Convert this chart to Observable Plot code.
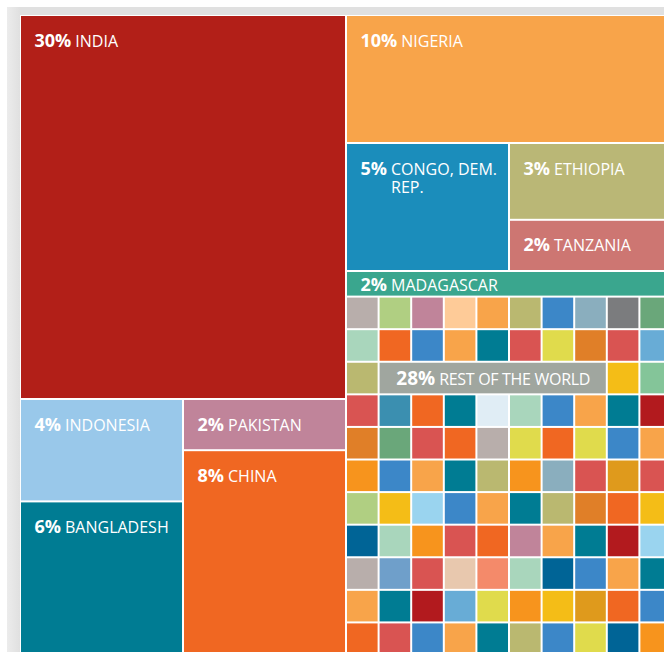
<!DOCTYPE html>
<html>
<head>
<meta charset="utf-8">
<script src="https://cdn.jsdelivr.net/npm/d3@7"></script>
<script src="https://cdn.jsdelivr.net/npm/@observablehq/plot@0.6"></script>
<style>
  html, body { margin: 0; padding: 0; background: #fff; }
  #page { position: relative; width: 664px; height: 652px; overflow: hidden; background: #fff; }
  #frame { position: absolute; left: 7px; top: 7px; width: 657px; height: 645px;
           background: linear-gradient(90deg, #ececec 0px, #e0e0e0 13px, #e0e0e0 100%); }
  #chart { position: absolute; left: 20px; top: 15px; width: 644px; height: 637px; overflow: hidden; }
  #chart svg { display: block; }
</style>
</head>
<body>
<div id="page">
  <div id="frame"></div>
  <div id="chart"></div>
</div>
<script>
// ---- data ----
const names = ["INDIA", "NIGERIA", "CONGO, DEM.\nREP.", "ETHIOPIA", "TANZANIA", "MADAGASCAR",
               "INDONESIA", "PAKISTAN", "CHINA", "BANGLADESH"];
const shares = [30, 10, 5, 3, 2, 2, 4, 2, 8, 6];
const tileColors = ["#b21f18", "#f8a44a", "#1b8dbb", "#bab776", "#cd7672", "#3aa68e",
                    "#99c8ea", "#c0849a", "#f06722", "#007c93"];
const restName = "REST OF THE WORLD";
const restShare = 28;
const restColor = "#a0a69f";

// halves -> bands -> columns -> countries
const arrangement = [
  [[["INDIA"]], [["INDONESIA", "BANGLADESH"], ["PAKISTAN", "CHINA"]]],
  [[["NIGERIA"]], [["CONGO, DEM.\nREP."], ["ETHIOPIA", "TANZANIA"]], [["MADAGASCAR"]], "REST"]
];

// mosaic of the rest of the world ("-" = under the label)
const restPalette = {
  a: "#b8aeab", b: "#b0cf82", c: "#c0849a", d: "#fecb98", e: "#f8a44a", f: "#bab870",
  g: "#3c87c8", h: "#8aaebe", i: "#7b7c7e", j: "#6aa77a", k: "#a9d6bc", l: "#f06722",
  m: "#007c93", n: "#d95452", o: "#e0db4c", p: "#e07f28", q: "#68acd6", r: "#f4bd17",
  s: "#84c599", t: "#3b8fb0", u: "#e0edf5", v: "#b21a1e", w: "#f7941d", x: "#df9a1c",
  y: "#9ad4ef", z: "#006496", A: "#6f9fca", B: "#e8c8ae", C: "#f48a6a"
};
const restGrid = [
  "abcdefghij",
  "klgemnopnq",
  "f-------rs",
  "ntlmukgemv",
  "pjnlaologe",
  "wgemfwhnxn",
  "brygemfplr",
  "zkwnlcemvy",
  "aAnBCkzgem",
  "emvqowrxlg",
  "lngemfgozw"
];

// ---- layout (the treemap runs a little past the visible frame, as in the original crop) ----
const W = 652, H = 640;
const VW = 644, VH = 637;
function leaf(name) {
  const i = names.indexOf(name);
  return {name, value: shares[i], color: tileColors[i], pct: shares[i] + "%"};
}
const nCols = restGrid[0].length;
const restColumns = d3.range(nCols).map(c => ({
  children: restGrid.map((row, r) => ({cell: true, key: row[c], row: r, col: c,
                                       value: restShare / (nCols * restGrid.length)}))
}));
const root = d3.hierarchy({
  children: arrangement.map(half => ({
    children: half.map(band => band === "REST"
      ? {rest: true, children: restColumns}
      : {children: band.map(col => ({children: col.map(leaf)}))})
  }))
}).sum(d => d.value || 0);
d3.treemap().tile(d3.treemapSliceDice).size([W, H]).round(false)(root);

const leaves = root.leaves();
const countryTiles = leaves.filter(d => !d.data.cell);
const cells = leaves.filter(d => d.data.cell && d.data.key !== "-");
const covered = leaves.filter(d => d.data.cell && d.data.key === "-");
const restBox = {
  x0: d3.min(covered, d => d.x0), x1: d3.max(covered, d => d.x1),
  y0: d3.min(covered, d => d.y0), y1: d3.max(covered, d => d.y1)
};

const labelInfo = new Map();
countryTiles.forEach(d => labelInfo.set(d.data.pct + " " + d.data.name.replace("\n", " "),
                                        {pct: d.data.pct, lines: d.data.name.split("\n"), pctSize: 18}));
labelInfo.set(restShare + "% " + restName, {pct: restShare + "%", lines: [restName], pctSize: 19, rest: true});

const plot = Plot.plot({
  width: VW, height: VH, margin: 0,
  x: {domain: [0, W], range: [0, W], axis: null},
  y: {domain: [0, H], range: [0, H], axis: null},
  style: {background: "#fff", fontFamily: "'Open Sans', sans-serif"},
  marks: [
    Plot.rect(countryTiles, {x1: "x0", x2: "x1", y1: "y0", y2: "y1", fill: d => d.data.color, inset: 1}),
    Plot.rect(cells, {x1: "x0", x2: "x1", y1: "y0", y2: "y1", fill: d => restPalette[d.data.key], inset: 1}),
    Plot.rect([restBox], {x1: "x0", x2: "x1", y1: "y0", y2: "y1", fill: restColor, inset: 1}),
    Plot.text(countryTiles, {
      x: d => d.x0 + 14,
      y: d => d.y0 + Math.min(26, (d.y1 - d.y0) / 2 + 2),
      text: d => d.data.pct + " " + d.data.name.replace("\n", " "),
      textAnchor: "start", fill: "#fff", fontSize: 16
    }),
    Plot.text([restBox], {
      x: d => (d.x0 + d.x1) / 2, y: d => (d.y0 + d.y1) / 2 + 1,
      text: () => restShare + "% " + restName,
      textAnchor: "middle", fill: "#fff", fontSize: 16
    })
  ]
});
document.getElementById("chart").append(plot);

// mixed-weight labels: bold percentage + regular name (possibly wrapped)
const ns = "http://www.w3.org/2000/svg";
plot.querySelectorAll("text").forEach(t => {
  const info = labelInfo.get(t.textContent);
  if (!info) return;
  while (t.firstChild) t.removeChild(t.firstChild);
  const b = document.createElementNS(ns, "tspan");
  b.setAttribute("font-weight", "700");
  b.setAttribute("font-size", info.pctSize);
  b.textContent = info.pct;
  t.appendChild(b);
  const n = document.createElementNS(ns, "tspan");
  n.setAttribute("dx", "4");
  if (info.rest) n.setAttribute("letter-spacing", "-0.3");
  n.textContent = info.lines[0];
  t.appendChild(n);
  const baseX = parseFloat(t.getAttribute("x")) || 0;
  const off = b.getComputedTextLength() + 4;
  info.lines.slice(1).forEach(line => {
    const s = document.createElementNS(ns, "tspan");
    s.setAttribute("x", baseX + off);
    s.setAttribute("dy", "1.15em");
    s.textContent = line;
    t.appendChild(s);
  });
});
</script>
</body>
</html>
